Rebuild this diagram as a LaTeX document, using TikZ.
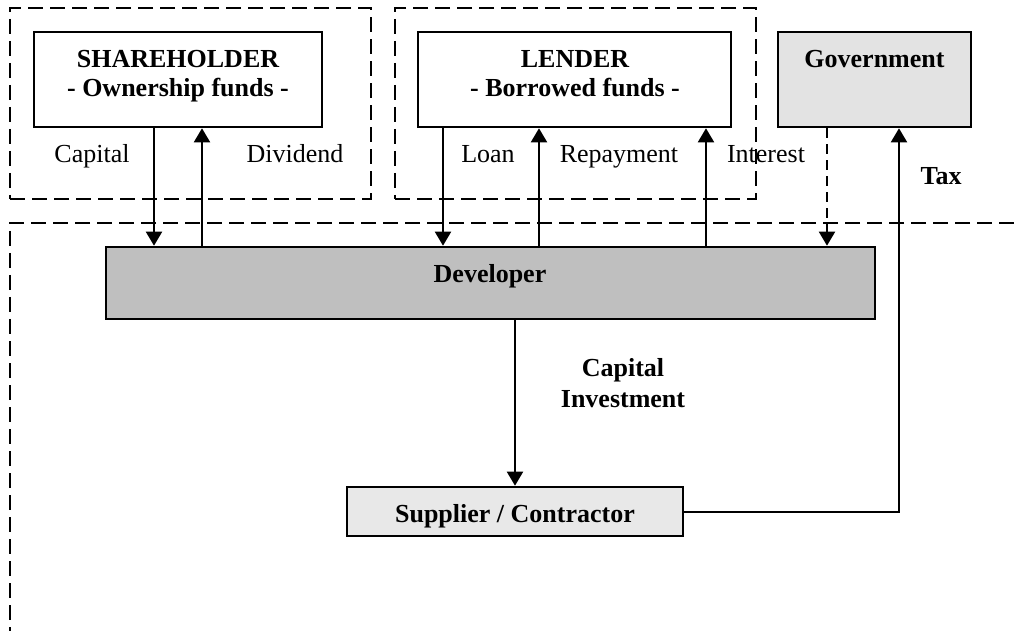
\documentclass[tikz,border=0pt]{standalone}
\usepackage{fontspec}
\setmainfont{Liberation Serif}
\usetikzlibrary{arrows.meta,fit}
\begin{document}
\begin{tikzpicture}[x=0.5pt,y=-0.5pt,
  box/.style={draw, line width=1.3pt, inner sep=0pt},
  group/.style={draw, line width=1pt, dash pattern=on 7.5pt off 3.5pt},
  flow/.style={line width=1pt, -{Triangle[length=7pt,width=8pt]}},
  taxflow/.style={flow, dash pattern=on 5pt off 3pt},
  lbl/.style={font=\fontsize{13}{15}\selectfont, anchor=base, inner sep=0pt},
  ttl/.style={font=\fontsize{13}{15}\selectfont\bfseries, anchor=base, inner sep=0pt},
]
\useasboundingbox (0,0) rectangle (1014,631);

% dashed groupings
\node[group, inner sep=0pt, fit={(10,8) (371,199)}] (grpA) {};
\node[group, inner sep=0pt, fit={(395,8) (756,199)}] (grpB) {};
\draw[group] (1014,223) -- (10,223) -- (10,631);

% boxes
\node[box, fit={(34,32) (322,127)}] (sh) {};
\node[box, fit={(418,32) (731,127)}] (ld) {};
\node[box, fill=gray!22, fit={(778,32) (971,127)}] (gov) {};
\node[box, fill=gray!50, fit={(106,247) (875,319)}] (dev) {};
\node[box, fill=gray!18, fit={(347,487) (683,536)}] (sup) {};

% box texts
\node[ttl] (shA) at (178,68) {SHAREHOLDER};
\node[ttl] (shB) at (178,97) {- Ownership funds -};
\node[ttl] (ldA) at (575,68) {LENDER};
\node[ttl] (ldB) at (575,97) {- Borrowed funds -};
\node[ttl] (govT) at (874.5,68) {Government};
\node[ttl] (devT) at (490,283) {Developer};
\node[ttl] (supT) at (515,523) {Supplier / Contractor};

% connector columns
\coordinate (xCap) at (154,0);
\coordinate (xDiv) at (202,0);
\coordinate (xLoan) at (443,0);
\coordinate (xRep) at (539,0);
\coordinate (xInt) at (706,0);
\coordinate (xGov) at (827,0);
\coordinate (xInv) at (515,0);
\coordinate (xTax) at (899,0);

% flows
\draw[flow] (xCap |- sh.south) -- (xCap |- dev.north);
\draw[flow] (xDiv |- dev.north) -- (xDiv |- sh.south);
\draw[flow] (xLoan |- ld.south) -- (xLoan |- dev.north);
\draw[flow] (xRep |- dev.north) -- (xRep |- ld.south);
\draw[flow] (xInt |- dev.north) -- (xInt |- ld.south);
\draw[taxflow] (xGov |- gov.south) -- (xGov |- dev.north);
\draw[flow] (xInv |- dev.south) -- (xInv |- sup.north);
\draw[flow] (sup.east) -| (xTax |- gov.south);

% flow labels
\node[lbl] (capL) at (92,163) {Capital};
\node[lbl] (divL) at (295,163) {Dividend};
\node[lbl] (loanL) at (488,163) {Loan};
\node[lbl] (repL) at (619,163) {Repayment};
\node[lbl] (intL) at (766,163) {Interest};
\node[ttl] (taxL) at (941,185) {Tax};
\node[ttl] (invA) at (623,377) {Capital};
\node[ttl] (invB) at (623,408) {Investment};
\end{tikzpicture}
\end{document}
